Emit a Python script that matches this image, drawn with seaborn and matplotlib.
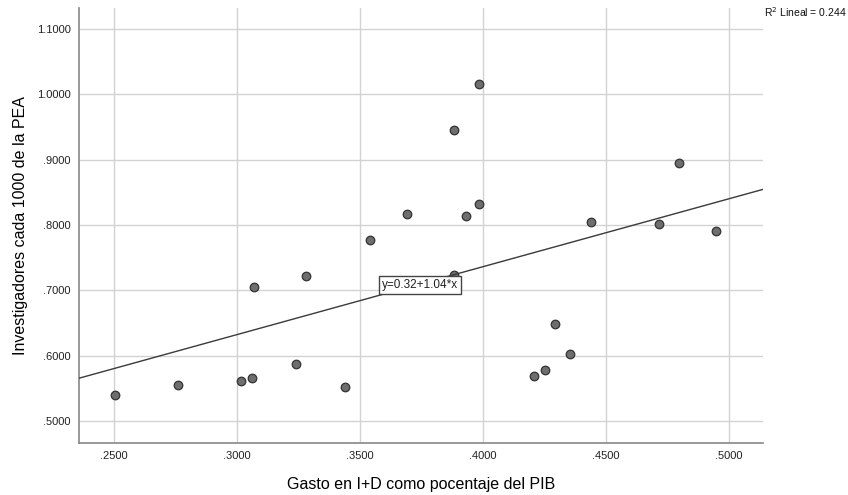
import numpy as np
import pandas as pd
import matplotlib
matplotlib.use("Agg")
import matplotlib.pyplot as plt
import seaborn as sns

# datos
gasto_id = [0.2504, 0.2760, 0.3017, 0.3060, 0.3069, 0.3240, 0.3280, 0.3440,
            0.3540, 0.3690, 0.3880, 0.3880, 0.3930, 0.3984, 0.3985, 0.4207,
            0.4252, 0.4293, 0.4354, 0.4439, 0.4716, 0.4798, 0.4947]
investigadores = [0.540, 0.555, 0.561, 0.566, 0.705, 0.587, 0.722, 0.552,
                  0.777, 0.817, 0.946, 0.724, 0.813, 1.016, 0.832, 0.569,
                  0.578, 0.648, 0.603, 0.805, 0.801, 0.895, 0.790]
intercepto = 0.32
pendiente = 1.04
r2 = 0.244
x_ticks = [0.25, 0.30, 0.35, 0.40, 0.45, 0.50]
y_ticks = [0.5, 0.6, 0.7, 0.8, 0.9, 1.0, 1.1]

df = pd.DataFrame({"x": gasto_id, "y": investigadores})

sns.set_style("white")
plt.rcParams["font.family"] = ["Liberation Sans", "DejaVu Sans"]

fig = plt.figure(figsize=(8.48, 4.95), dpi=100)
ax = fig.add_axes([0.0932, 0.105, 0.8066, 0.8788])

ax.grid(True, color="#d2d2d2", linewidth=1.0, zorder=0)
ax.set_axisbelow(True)

sns.scatterplot(data=df, x="x", y="y", ax=ax, s=38, color="#6e6e6e",
                edgecolor="#333333", linewidth=0.9, zorder=3)

ax.set_xlim(0.2358, 0.5138)
ax.set_ylim(0.466, 1.132)

# recta de ajuste
xs = np.array(ax.get_xlim())
ax.plot(xs, intercepto + pendiente * xs, color="#3a3a3a", linewidth=1.0, zorder=4)
ax.set_xlim(0.2358, 0.5138)

ax.text(0.3745, 0.708, f"y={intercepto:.2f}+{pendiente:.2f}*x", fontsize=8.5,
        ha="center", va="center", color="#222222", zorder=5,
        bbox=dict(boxstyle="square,pad=0.25", facecolor="white",
                  edgecolor="#444444", linewidth=1.0))

ax.set_xticks(x_ticks)
ax.set_xticklabels([f"{v:.4f}".lstrip("0") for v in x_ticks])
ax.set_yticks(y_ticks)
ax.set_yticklabels([f"{v:.4f}".lstrip("0") if v < 1 else f"{v:.4f}" for v in y_ticks])
ax.tick_params(axis="both", length=0, labelsize=8, colors="#222222", pad=6)

for side in ["top", "right"]:
    ax.spines[side].set_visible(False)
for side in ["left", "bottom"]:
    ax.spines[side].set_color("#888888")
    ax.spines[side].set_linewidth(1.2)

ax.set_xlabel("Gasto en I+D como pocentaje del PIB", fontsize=11.5, labelpad=11,
              color="black")
ax.set_ylabel("Investigadores cada 1000 de la PEA", fontsize=11.5, labelpad=6,
              color="black")

fig.text(0.901, 0.965, f"R$^2$ Lineal = {r2}", fontsize=7.5, color="#111111")

fig.savefig("out.png", dpi=100)
